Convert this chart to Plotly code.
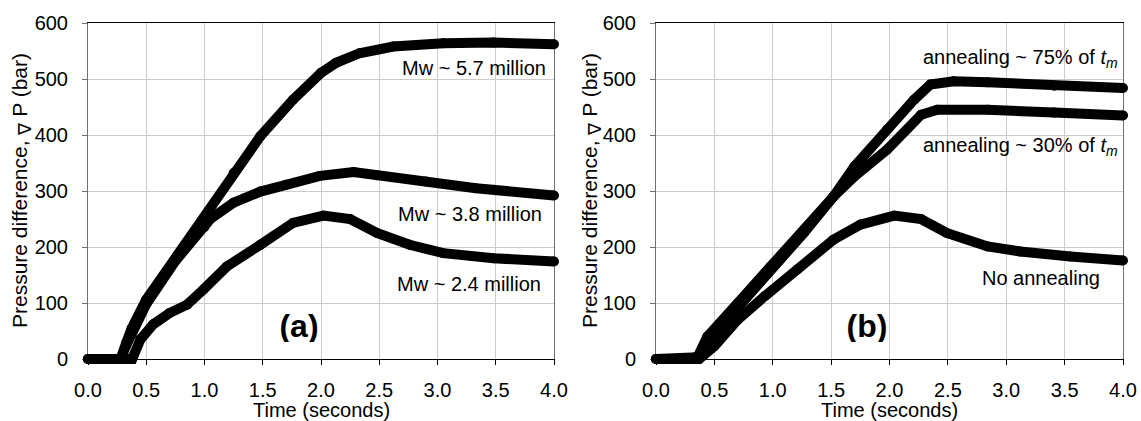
import plotly.graph_objects as go

# ---------------- data (time in s, pressure difference in bar) ----------------
# Panel (a): molecular weight series
t_mw57 = [0, 0.1, 0.2, 0.28, 0.33, 0.375, 0.5, 0.76, 0.99, 1.25, 1.48, 1.76, 2.0, 2.13, 2.33, 2.62, 3.05, 3.48, 4.0]
p_mw57 = [0, 0, 0, 0, 30, 55, 106, 183, 249, 332, 398, 463, 511, 529, 546, 558, 564, 565, 562]

t_mw38 = [0, 0.1, 0.2, 0.28, 0.33, 0.375, 0.5, 0.75, 1.0, 1.05, 1.25, 1.48, 1.70, 1.99, 2.28, 2.48, 2.9, 3.33, 4.0]
p_mw38 = [0, 0, 0, 0, 25, 45, 98, 175, 236, 250, 279, 299, 311, 327, 334, 328, 317, 305, 292]

t_mw24 = [0, 0.1, 0.2, 0.3, 0.38, 0.45, 0.56, 0.70, 0.85, 0.99, 1.19, 1.48, 1.76, 2.02, 2.25, 2.48, 2.76, 3.05, 3.48, 4.0]
p_mw24 = [0, 0, 0, 0, 0, 35, 62, 82, 97, 124, 165, 204, 243, 256, 250, 225, 204, 189, 180, 174]

# Panel (b): annealing series
t_ann75 = [0, 0.1, 0.2, 0.3, 0.36, 0.44, 0.70, 0.98, 1.27, 1.52, 1.70, 1.98, 2.21, 2.35, 2.55, 2.84, 3.41, 4.0]
p_ann75 = [0, 0, 0, 0, 5, 40, 100, 165, 231, 290, 344, 410, 463, 490, 496, 494, 488, 484]

t_ann30 = [0, 0.1, 0.2, 0.3, 0.36, 0.44, 0.70, 0.98, 1.27, 1.52, 1.70, 1.98, 2.27, 2.41, 2.84, 3.41, 4.0]
p_ann30 = [0, 0, 0, 0, 3, 30, 90, 160, 226, 290, 326, 374, 436, 445, 445, 440, 435]

t_noann = [0, 0.1, 0.2, 0.3, 0.37, 0.5, 0.70, 0.93, 1.21, 1.52, 1.75, 2.04, 2.27, 2.49, 2.84, 3.12, 3.55, 4.0]
p_noann = [0, 0, 0, 0, 0, 23, 70, 112, 160, 213, 240, 256, 250, 225, 201, 192, 183, 176]

x_ticks = [0.0, 0.5, 1.0, 1.5, 2.0, 2.5, 3.0, 3.5, 4.0]
y_ticks = [0, 100, 200, 300, 400, 500, 600]

labels_a = ["Mw ~ 5.7 million", "Mw ~ 3.8 million", "Mw ~ 2.4 million"]
labels_b = ["annealing ~ 75% of <i>t</i><sub><i>m</i></sub>",
            "annealing ~ 30% of <i>t</i><sub><i>m</i></sub>",
            "No annealing"]

# ---------------- layout geometry (pixels) ----------------
W, H = 1141, 421
TOP, BOTTOM = 23, 359
PANEL_A = (88, 554)
PANEL_B = (656, 1123)
X_RANGE = (0, 4)
Y_RANGE = (0, 600)
PAD = 14  # extra room so thick curves are not cut at the frame

FONT = "Liberation Sans, Arial, sans-serif"


def px_x(x):
    return x / W


def px_y(y):
    return 1 - y / H


def widened(lo_px, hi_px, rng, pad):
    scale = (rng[1] - rng[0]) / (hi_px - lo_px)
    return [rng[0] - pad * scale, rng[1] + pad * scale]


fig = go.Figure()

line_style = dict(color="black", width=10)
marker_style = dict(color="black", size=10)

def curve(t, p, xa, ya):
    fig.add_trace(go.Scatter(x=t, y=p, mode="lines+markers", line=line_style,
                             marker=marker_style, xaxis=xa, yaxis=ya,
                             showlegend=False, hoverinfo="skip", cliponaxis=False))

# empty traces to anchor the framed axes
fig.add_trace(go.Scatter(x=[], y=[], xaxis="x", yaxis="y", showlegend=False))
fig.add_trace(go.Scatter(x=[], y=[], xaxis="x2", yaxis="y2", showlegend=False))

curve(t_mw57, p_mw57, "x3", "y3")
curve(t_mw38, p_mw38, "x3", "y3")
curve(t_mw24, p_mw24, "x3", "y3")
curve(t_ann75, p_ann75, "x4", "y4")
curve(t_ann30, p_ann30, "x4", "y4")
curve(t_noann, p_noann, "x4", "y4")

# panel letters, clipped at their lower edge
fig.add_trace(go.Scatter(x=[299, 867], y=[329, 329], mode="text",
                         text=["<b>(a)</b>", "<b>(b)</b>"],
                         textposition="middle center",
                         textfont=dict(family=FONT, size=32, color="black"),
                         xaxis="x5", yaxis="y5", showlegend=False,
                         hoverinfo="skip", cliponaxis=True))

x_common = dict(range=list(X_RANGE), tickvals=x_ticks, tickformat=".1f",
                showgrid=True, gridcolor="#cccccc", gridwidth=1,
                showline=True, linecolor="black", linewidth=1, mirror=True,
                ticks="outside", ticklen=5, tickcolor="black",
                tickfont=dict(family=FONT, size=20, color="black"),
                ticklabelstandoff=8, zeroline=False, fixedrange=True,
                automargin=False)
y_common = dict(range=list(Y_RANGE), tickvals=y_ticks,
                showgrid=True, gridcolor="#cccccc", gridwidth=1,
                showline=True, linecolor="#707070", linewidth=1, mirror=True,
                ticks="outside", ticklen=5, tickcolor="#707070",
                tickfont=dict(family=FONT, size=20, color="black"),
                ticklabelstandoff=10, zeroline=False, fixedrange=True,
                automargin=False)

dom_y = [px_y(BOTTOM), px_y(TOP)]
dom_y_wide = [px_y(BOTTOM + PAD), px_y(TOP - PAD)]
y_wide = widened(TOP, BOTTOM, Y_RANGE, PAD)

hidden = dict(visible=False, fixedrange=True, showgrid=False, zeroline=False,
              automargin=False)

fig.update_layout(
    template="none",
    width=W, height=H, autosize=False,
    margin=dict(l=0, r=0, t=0, b=0, pad=0),
    paper_bgcolor="white", plot_bgcolor="rgba(0,0,0,0)",
    xaxis=dict(domain=[px_x(PANEL_A[0]), px_x(PANEL_A[1])], anchor="y", **x_common),
    yaxis=dict(domain=dom_y, anchor="x", **y_common),
    xaxis2=dict(domain=[px_x(PANEL_B[0]), px_x(PANEL_B[1])], anchor="y2", **x_common),
    yaxis2=dict(domain=dom_y, anchor="x2", **y_common),
    xaxis3=dict(domain=[px_x(PANEL_A[0] - PAD), px_x(PANEL_A[1] + PAD)], anchor="y3",
                range=widened(*PANEL_A, X_RANGE, PAD), **hidden),
    yaxis3=dict(domain=dom_y_wide, anchor="x3", range=y_wide, **hidden),
    xaxis4=dict(domain=[px_x(PANEL_B[0] - PAD), px_x(PANEL_B[1] + PAD)], anchor="y4",
                range=widened(*PANEL_B, X_RANGE, PAD), **hidden),
    yaxis4=dict(domain=dom_y_wide, anchor="x4", range=y_wide, **hidden),
    xaxis5=dict(domain=[0, 1], anchor="y5", range=[0, W], **hidden),
    yaxis5=dict(domain=[px_y(342), px_y(300)], anchor="x5", range=[342, 300], **hidden),
)

annotations = []
txt_font = dict(family=FONT, size=20, color="black")
title_font = dict(family=FONT, size=21, color="black")
xtitle_font = dict(family=FONT, size=20, color="black")

# axis titles
for cx in [(PANEL_A[0] + PANEL_A[1]) / 2, (PANEL_B[0] + PANEL_B[1]) / 2]:
    annotations.append(dict(text="Time (seconds)", x=px_x(cx), y=px_y(410),
                            xref="paper", yref="paper", xanchor="center", yanchor="middle",
                            showarrow=False, font=xtitle_font))
ytitle = ("Pressure difference, <sub><span style='font-size:18px'>\u2207</span></sub> P (bar)")
for cx in [22, 592]:
    annotations.append(dict(text=ytitle,
                            x=px_x(cx), y=px_y(191), textangle=-90,
                            xref="paper", yref="paper", xanchor="center", yanchor="middle",
                            showarrow=False, font=title_font))

# curve labels
for text, (rx, cy) in zip(labels_a, [(548, 68), (544, 214), (543, 284)]):
    annotations.append(dict(text=text, x=px_x(rx), y=px_y(cy), xref="paper", yref="paper",
                            xanchor="right", yanchor="middle", showarrow=False, font=txt_font))
for text, (rx, cy) in zip(labels_b, [(1120, 58), (1120, 146), (1102, 278)]):
    annotations.append(dict(text=text, x=px_x(rx), y=px_y(cy), xref="paper", yref="paper",
                            xanchor="right", yanchor="middle", showarrow=False, font=txt_font))

fig.update_layout(annotations=annotations)

fig.write_html("out.html")
